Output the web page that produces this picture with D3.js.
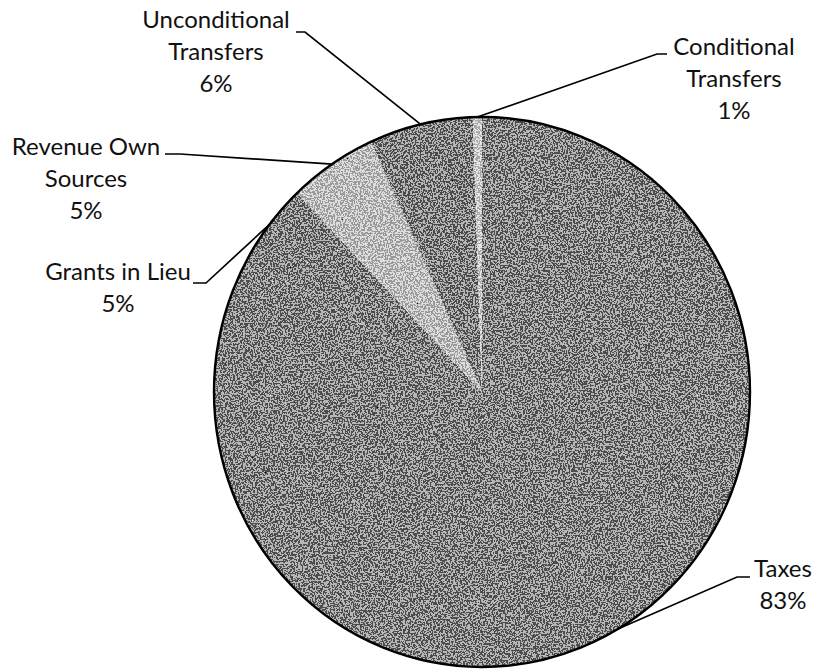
<!DOCTYPE html>
<html>
<head>
<meta charset="utf-8">
<script src="https://cdn.jsdelivr.net/npm/d3@7/dist/d3.min.js"></script>
<style>
  html, body { margin: 0; padding: 0; background: #fff; }
  svg { display: block; }
  text { font-family: Lato, "Open Sans", sans-serif; fill: #111; }
</style>
</head>
<body>
<svg id="chart" width="816" height="669"></svg>
<script>
// ---- data ----
const categories = ["Taxes", "Grants in Lieu", "Revenue Own Sources", "Unconditional Transfers", "Conditional Transfers"];
const values = [83.0, 4.9, 5.3, 6.25, 0.55];
const labelLines = [["Taxes"], ["Grants in Lieu"], ["Revenue Own", "Sources"], ["Unconditional", "Transfers"], ["Conditional", "Transfers"]];

// ---- layout / style ----
const W = 816, H = 669;
const cx = 482, cy = 392, R = 268, yScale = 1.026;
const fills = ["#646464", "#646464", "#c2c2c2", "#616161", "#d4d4d4"];
const labelLayout = [
  { x: 783, y: 577, stub: [[750, 577], [737, 577]] },
  { x: 118, y: 280, stub: [[193, 283], [206, 283]] },
  { x: 86,  y: 155, stub: [[165, 154], [180, 154]] },
  { x: 216, y: 28,  stub: [[296, 32], [305, 32]] },
  { x: 734, y: 55,  stub: [[667, 54], [657, 54]] }
];
const fontSize = 24, lineGap = 32;

const svg = d3.select("#chart");
const defs = svg.append("defs");
const f = defs.append("filter").attr("id", "grain").attr("x", 0).attr("y", 0).attr("width", 1).attr("height", 1);
f.append("feTurbulence").attr("type", "fractalNoise").attr("baseFrequency", 0.6).attr("numOctaves", 1).attr("seed", 4).attr("result", "noise");
f.append("feColorMatrix").attr("in", "noise").attr("type", "saturate").attr("values", 0).attr("result", "gray");
f.append("feComponentTransfer").attr("in", "gray").attr("result", "bw")
  .call(s => ["feFuncR", "feFuncG", "feFuncB"].forEach(n => s.append(n).attr("type", "discrete").attr("tableValues", "0 0.3 0.7 1")))
  .call(s => s.append("feFuncA").attr("type", "linear").attr("slope", 0).attr("intercept", 1));
f.append("feBlend").attr("in", "SourceGraphic").attr("in2", "bw").attr("mode", "overlay").attr("result", "bl");
f.append("feComposite").attr("in", "bl").attr("in2", "SourceGraphic").attr("operator", "in");

const pie = d3.pie().sort(null).value(d => d)(values);
const arc = d3.arc().innerRadius(0).outerRadius(R);

const g = svg.append("g").attr("transform", `translate(${cx},${cy}) scale(1,${yScale})`);
g.append("g").attr("filter", "url(#grain)")
  .selectAll("path").data(pie).join("path")
  .attr("d", arc)
  .attr("fill", (d, i) => fills[i]);
g.append("circle").attr("r", R).attr("fill", "none").attr("stroke", "#000").attr("stroke-width", 2.4)
  .attr("vector-effect", "non-scaling-stroke");

// leader lines
pie.forEach((d, i) => {
  const a = (d.startAngle + d.endAngle) / 2;
  const px = cx + Math.sin(a) * R;
  const py = cy - Math.cos(a) * R * yScale;
  const L = labelLayout[i];
  const pts = [L.stub[0], L.stub[1], [px, py]];
  svg.append("path")
    .attr("d", d3.line()(pts))
    .attr("fill", "none").attr("stroke", "#000").attr("stroke-width", 1.7);
});

// labels
pie.forEach((d, i) => {
  const L = labelLayout[i];
  const pct = Math.round(values[i] / d3.sum(values) * 100) + "%";
  const lines = labelLines[i].concat([pct]);
  const t = svg.append("text").attr("text-anchor", "middle").attr("font-size", fontSize);
  lines.forEach((ln, j) => t.append("tspan").attr("x", L.x).attr("y", L.y + j * lineGap).text(ln));
});
</script>
</body>
</html>
